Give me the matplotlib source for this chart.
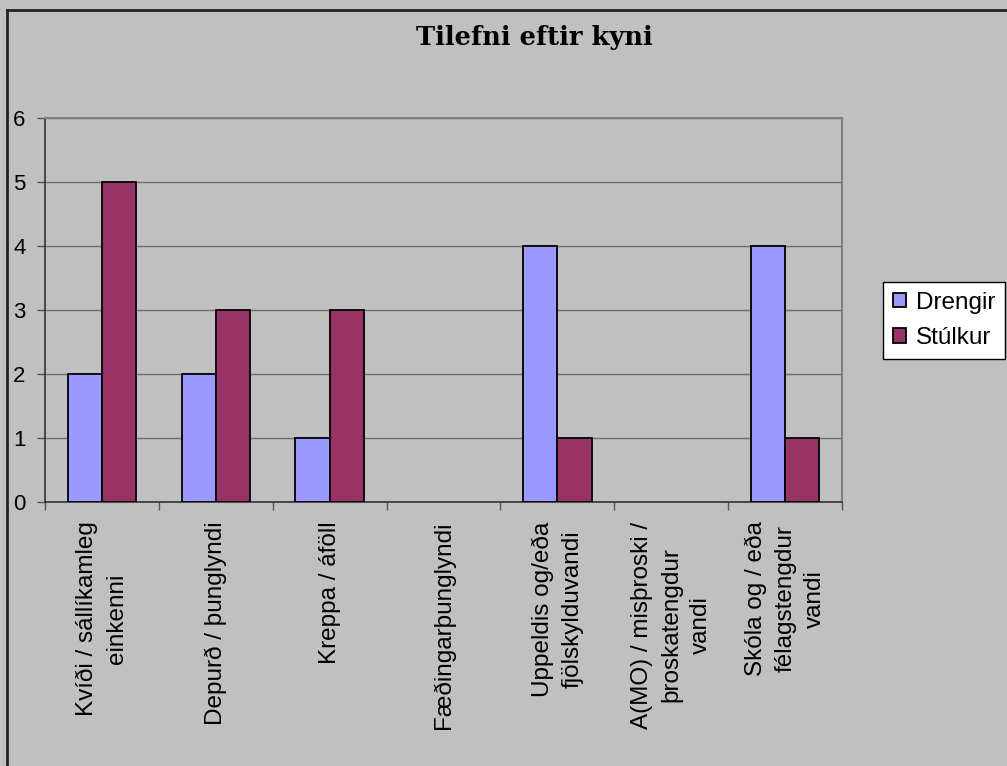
import matplotlib
matplotlib.use('Agg')
import matplotlib.pyplot as plt
import numpy as np
from matplotlib.lines import Line2D

# data
flokkar = ["Kvíði / sállíkamleg\neinkenni",
           "Depurð / þunglyndi",
           "Kreppa / áföll",
           "Fæðingarþunglyndi",
           "Uppeldis og/eða\nfjölskylduvandi",
           "A(MO) / misþroski /\nþroskatengdur\nvandi",
           "Skóla og / eða\nfélagstengdur\nvandi"]
drengir = [2, 2, 1, 0, 4, 0, 4]
stulkur = [5, 3, 3, 0, 1, 0, 1]
series_names = ["Drengir", "Stúlkur"]

plt.rcParams['font.family'] = ['Liberation Sans', 'DejaVu Sans']

bg = "#C0C0C0"
W, H = 1007, 766

fig = plt.figure(figsize=(W / 100, H / 100), dpi=100, facecolor=bg)
ax = fig.add_axes([45 / W, 1 - 502 / H, (842 - 45) / W, (502 - 118) / H])
ax.set_facecolor(bg)

x = np.arange(len(flokkar))
bw = 0.3
b1 = ax.bar(x - bw / 2, drengir, bw, color="#9999FF", edgecolor="black", linewidth=1.3,
            label=series_names[0], zorder=3)
b2 = ax.bar(x + bw / 2, stulkur, bw, color="#993366", edgecolor="black", linewidth=1.3,
            label=series_names[1], zorder=3)
# no outline for empty bars
for cont, vals in ((b1, drengir), (b2, stulkur)):
    for rect, v in zip(cont, vals):
        if v == 0:
            rect.set_visible(False)

ax.set_xlim(-0.5, len(flokkar) - 0.5)
ax.set_ylim(0, 6)
ax.set_yticks(range(7))
ax.yaxis.grid(True, color="#6e6e6e", linewidth=1, zorder=0)
ax.tick_params(axis="y", labelsize=16, length=6, width=1, color="#555555", pad=8)

# category boundaries as major ticks, labels on minor ticks
ax.set_xticks(np.arange(-0.5, len(flokkar), 1.0))
ax.set_xticklabels([])
ax.set_xticks(x, minor=True)
ax.set_xticklabels(flokkar, minor=True, rotation=90, va="top", ha="center",
                   multialignment="center", fontsize=17.5, linespacing=1.45)
ax.tick_params(axis="x", which="major", length=6, width=1, color="#555555")
ax.tick_params(axis="x", which="minor", length=0, pad=14)

for s in ["top", "right"]:
    ax.spines[s].set_color("#808080")
    ax.spines[s].set_linewidth(1.5)
for s in ["left", "bottom"]:
    ax.spines[s].set_color("#333333")
    ax.spines[s].set_linewidth(1.2)

fig.text(534 / W, 1 - 38 / H, "Tilefni eftir kyni", ha="center", va="center",
         fontsize=18.5, fontweight="bold", family="DejaVu Serif")

leg = fig.legend(loc="upper left", bbox_to_anchor=(883 / W, 1 - 282 / H),
                 fontsize=17.5, frameon=True, fancybox=False, edgecolor="black",
                 facecolor="white", framealpha=1, handlelength=0.55,
                 handleheight=0.55, handletextpad=0.4, borderpad=0.4,
                 labelspacing=0.55, borderaxespad=0)
leg.get_frame().set_linewidth(1)

# outer chart border (top and left)
fig.add_artist(Line2D([7 / W, 1], [1 - 10 / H, 1 - 10 / H], color="#222222", lw=2))
fig.add_artist(Line2D([7 / W, 7 / W], [0, 1 - 10 / H], color="#222222", lw=2))

fig.savefig("out.png", dpi=100, facecolor=bg)
